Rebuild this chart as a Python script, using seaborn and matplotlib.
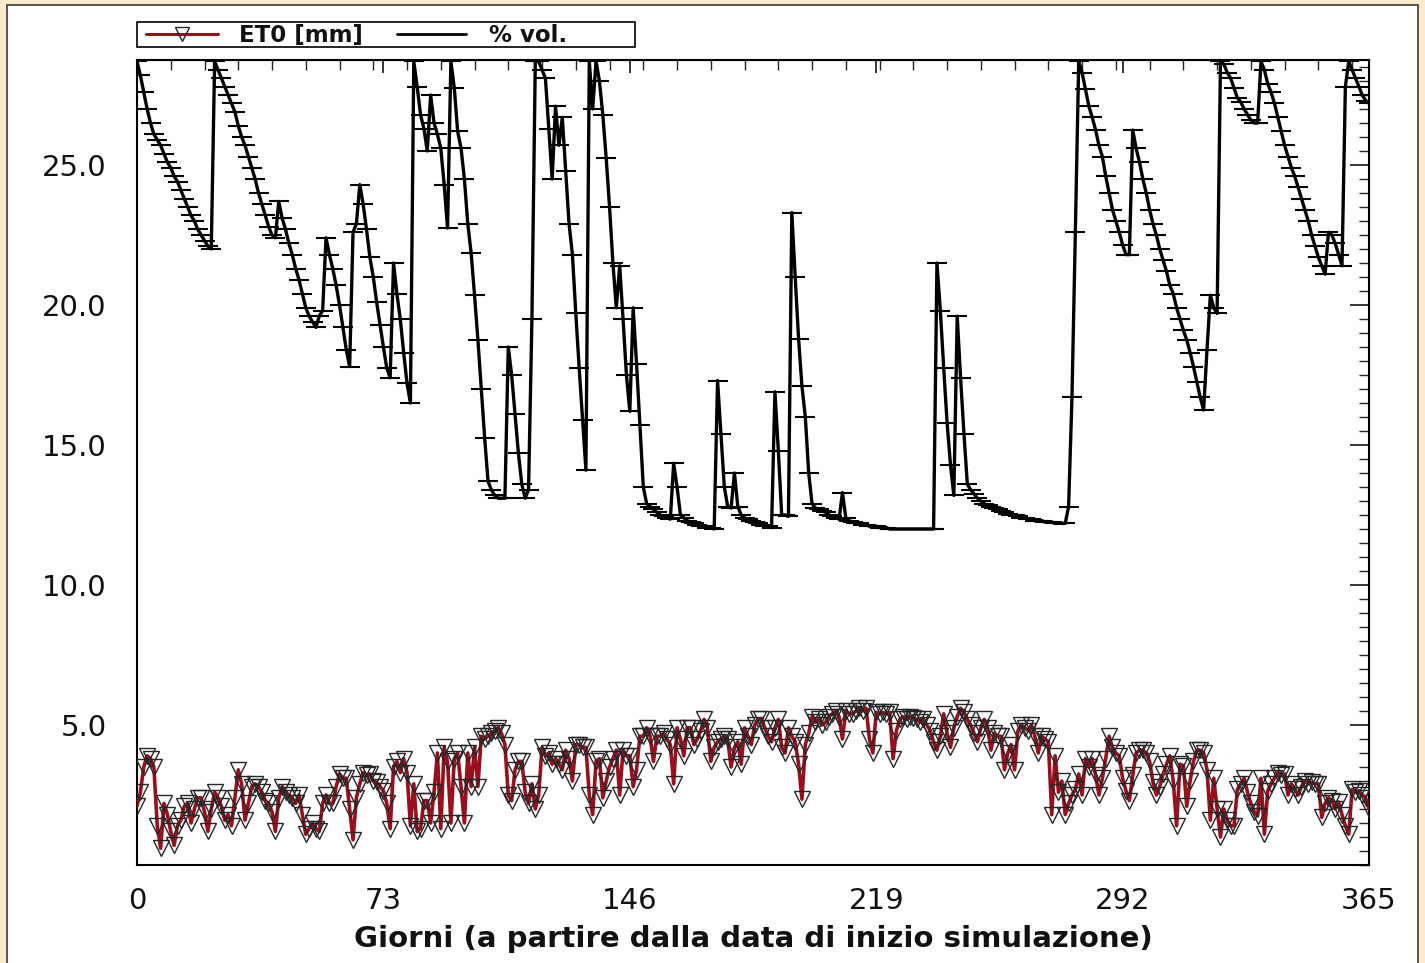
import numpy as np
import pandas as pd
import matplotlib
matplotlib.use("Agg")
import matplotlib.pyplot as plt
import seaborn as sns
from matplotlib.ticker import MultipleLocator, FixedLocator, NullFormatter
from matplotlib.patches import Rectangle
from matplotlib.lines import Line2D

# ---- data -------------------------------------------------------------
# soil moisture (% vol.), daily, day 0..365
soil_moisture = [
    28.7, 28.2, 27.6, 27.0, 26.5, 26.1, 25.9, 25.7, 25.4, 25.1,
    24.9, 24.6, 24.4, 24.1, 23.8, 23.5, 23.2, 23.0, 22.7, 22.5,
    22.3, 22.1, 22.0, 28.7, 28.4, 28.1, 27.8, 27.5, 27.2, 26.9,
    26.4, 26.0, 25.7, 25.3, 24.9, 24.5, 24.0, 23.6, 23.2, 22.8,
    22.5, 22.4, 23.7, 23.1, 22.7, 22.2, 21.8, 21.3, 20.9, 20.4,
    19.9, 19.6, 19.4, 19.2, 19.6, 19.8, 22.4, 21.8, 21.3, 20.7,
    20.0, 19.2, 18.4, 17.8, 22.6, 22.9, 24.3, 23.6, 22.7, 21.7,
    21.0, 20.1, 19.3, 18.5, 17.75, 17.4, 21.5, 20.4, 19.5, 18.3,
    17.2, 16.5, 28.7, 27.8, 26.8, 26.3, 25.5, 27.5, 26.5, 26.1,
    25.6, 24.3, 22.75, 28.7, 27.75, 26.2, 25.6, 24.5, 22.9, 21.85,
    20.35, 18.75, 17.0, 15.25, 13.7, 13.4, 13.2, 13.1, 13.1, 13.1,
    18.5, 17.5, 16.1, 14.7, 13.6, 13.1, 13.4, 19.5, 28.7, 28.7,
    28.4, 28.1, 26.3, 24.5, 27.1, 25.7, 26.7, 24.8, 22.9, 21.8,
    19.7, 17.75, 15.9, 14.1, 28.7, 27.0, 28.7, 28.0, 26.8, 25.25,
    23.5, 21.5, 19.9, 21.4, 19.5, 17.5, 16.2, 19.9, 17.9, 15.7,
    13.5, 12.9, 12.8, 12.7, 12.6, 12.5, 12.45, 12.4, 12.35, 14.35,
    13.5, 12.5, 12.4, 12.3, 12.25, 12.2, 12.15, 12.1, 12.1, 12.05,
    12.05, 12.0, 17.3, 15.4, 13.5, 12.8, 12.75, 14.0, 12.8, 12.5,
    12.4, 12.35, 12.3, 12.25, 12.2, 12.15, 12.1, 12.1, 12.05, 16.9,
    14.8, 12.5, 12.5, 12.45, 23.3, 21.0, 18.8, 17.1, 16.0, 14.0,
    12.9, 12.75, 12.7, 12.65, 12.6, 12.5, 12.45, 12.4, 12.35, 13.3,
    12.4, 12.3, 12.25, 12.2, 12.2, 12.15, 12.15, 12.1, 12.1, 12.1,
    12.05, 12.05, 12.05, 12.0, 12.0, 12.0, 12.0, 12.0, 12.0, 12.0,
    12.0, 12.0, 12.0, 12.0, 12.0, 12.0, 12.0, 21.5, 19.8, 17.75,
    15.8, 14.3, 13.2, 19.6, 17.4, 15.4, 13.6, 13.4, 13.25, 13.1,
    13.0, 12.9, 12.85, 12.8, 12.75, 12.7, 12.65, 12.6, 12.55, 12.5,
    12.5, 12.45, 12.4, 12.4, 12.35, 12.35, 12.3, 12.3, 12.3, 12.25,
    12.25, 12.25, 12.2, 12.2, 12.2, 12.2, 12.8, 16.7, 22.6, 28.7,
    28.3, 27.7, 27.1, 26.7, 26.25, 25.7, 25.3, 24.6, 24.0, 23.4,
    23.0, 22.6, 22.15, 21.8, 21.8, 26.25, 25.6, 25.1, 24.5, 24.0,
    23.4, 22.9, 22.5, 22.0, 21.6, 21.2, 20.7, 20.4, 19.9, 19.5,
    19.1, 18.75, 18.3, 17.8, 17.25, 16.7, 16.25, 18.4, 20.35, 19.9,
    19.7, 28.7, 28.6, 28.3, 28.1, 27.75, 27.4, 27.25, 27.0, 26.8,
    26.6, 26.5, 26.5, 28.7, 28.4, 27.9, 27.6, 27.2, 26.7, 26.2,
    25.7, 25.3, 24.9, 24.6, 24.2, 23.8, 23.4, 23.0, 22.5, 22.1,
    21.7, 21.4, 21.1, 22.6, 22.5, 22.2, 21.8, 21.4, 27.8, 28.7,
    28.4, 28.1, 27.8, 27.5, 27.3, 27.2,
]

# reference evapotranspiration ET0 (mm), daily, day 0..365
et0 = [
    2.1, 2.6, 3.5, 3.9, 3.8, 3.5, 1.4, 0.6, 2.2, 1.8,
    1.2, 0.7, 1.4, 1.6, 2.1, 2.2, 1.5, 2.0, 2.4, 2.4,
    1.9, 1.2, 2.0, 2.6, 2.4, 2.1, 1.6, 1.8, 1.4, 2.4,
    3.4, 2.9, 1.6, 2.2, 2.8, 2.9, 2.8, 2.6, 2.3, 2.2,
    1.9, 1.2, 2.4, 2.8, 2.6, 2.5, 2.4, 2.2, 2.5, 1.8,
    1.1, 1.3, 1.5, 1.3, 1.2, 2.2, 2.5, 2.2, 2.2, 2.8,
    3.25, 3.1, 3.1, 2.0, 0.9, 2.4, 2.9, 3.3, 3.2, 3.25,
    3.0, 2.95, 2.8, 2.65, 2.2, 1.3, 3.5, 3.7, 3.3, 3.8,
    3.3, 1.4, 2.9, 1.2, 1.3, 2.3, 2.3, 1.5, 2.6, 4.0,
    1.3, 4.2, 3.7, 1.5, 3.8, 4.0, 2.8, 1.5, 4.0, 2.8,
    4.2, 2.8, 4.6, 4.5, 4.6, 4.7, 4.8, 4.9, 4.7, 4.3,
    2.5, 2.3, 3.4, 3.7, 3.7, 2.6, 2.2, 2.9, 2.0, 2.5,
    4.2, 3.9, 4.0, 3.6, 3.8, 3.6, 3.4, 4.1, 3.8, 3.0,
    4.3, 4.3, 4.2, 4.2, 2.5, 1.8, 3.7, 3.8, 2.4, 3.0,
    3.5, 3.8, 4.1, 2.5, 4.1, 3.9, 3.9, 2.8, 3.4, 4.6,
    4.6, 4.9, 4.6, 3.7, 4.6, 4.6, 4.7, 4.5, 4.3, 2.9,
    4.9, 4.5, 3.9, 4.9, 4.9, 4.3, 4.5, 4.8, 5.2, 4.9,
    3.7, 4.2, 4.4, 4.5, 4.6, 4.5, 3.5, 4.2, 4.4, 3.6,
    4.9, 4.6, 4.3, 5.0, 5.2, 5.2, 4.9, 4.6, 4.4, 4.9,
    5.2, 4.2, 4.0, 4.9, 4.6, 4.4, 3.6, 2.35, 4.3, 4.7,
    5.3, 5.1, 5.2, 5.0, 5.1, 5.3, 5.4, 5.5, 5.3, 4.5,
    5.5, 5.4, 5.4, 5.5, 5.6, 5.5, 5.6, 4.5, 4.0, 5.45,
    5.4, 5.45, 5.4, 5.45, 3.8, 4.8, 5.2, 5.3, 5.2, 5.3,
    5.25, 5.2, 5.1, 5.2, 5.0, 4.8, 4.4, 4.1, 4.6, 5.4,
    4.7, 4.2, 4.9, 5.3, 5.6, 5.45, 5.2, 5.0, 4.7, 4.4,
    4.9, 5.2, 4.9, 4.1, 4.7, 4.6, 4.6, 3.4, 4.0, 4.3,
    3.4, 4.8, 5.0, 4.9, 4.8, 5.0, 4.6, 4.0, 4.6, 4.5,
    4.4, 1.8, 3.9, 2.6, 3.0, 1.8, 2.2, 2.5, 2.7, 3.25,
    2.5, 3.8, 3.5, 3.8, 3.2, 2.5, 3.1, 3.8, 4.6, 4.2,
    4.0, 3.9, 3.1, 2.65, 2.3, 3.2, 4.0, 4.1, 4.1, 4.0,
    3.7, 2.95, 2.5, 2.8, 3.25, 3.6, 3.9, 3.0, 1.4, 3.6,
    3.55, 2.1, 3.0, 3.7, 4.1, 4.1, 4.0, 3.4, 1.6, 3.1,
    2.0, 1.0, 2.0, 1.6, 1.4, 1.4, 2.7, 2.9, 3.1, 2.6,
    2.2, 1.9, 1.75, 3.1, 1.1, 2.65, 2.9, 3.1, 3.3, 3.2,
    3.25, 2.5, 2.9, 2.7, 2.5, 2.8, 3.0, 2.9, 2.95, 2.9,
    2.9, 1.7, 2.2, 2.4, 2.3, 2.0, 2.25, 1.8, 1.4, 1.1,
    2.7, 2.6, 2.65, 2.5, 2.4, 2.0,
]

assert len(soil_moisture) == 366, len(soil_moisture)
assert len(et0) == 366, len(et0)

days = list(range(len(soil_moisture)))
x_major_ticks = [0, 73, 146, 219, 292, 365]
y_major_ticks = [5.0, 10.0, 15.0, 20.0, 25.0]
label_et0 = "ET0 [mm]"
label_sm = "% vol."
x_title = "Giorni (a partire dalla data di inizio simulazione)"

df = pd.DataFrame({"giorno": days, "sm": soil_moisture, "et0": et0})

# ---- style ------------------------------------------------------------
sns.set_style("white")
plt.rcParams["font.family"] = ["DejaVu Sans"]

W, H = 1425, 963
fig = plt.figure(figsize=(W / 100, H / 100), dpi=100)
fig.patch.set_facecolor("#FBEACB")


def fx(px):
    return px / W


def fy(py):
    return 1 - py / H


# white inner panel with thin dark border
panel = Rectangle((fx(7), -0.01), fx(1418) - fx(7), fy(5) + 0.01,
                  transform=fig.transFigure, facecolor="white",
                  edgecolor="#3a3a3a", linewidth=1.2, zorder=0)
fig.add_artist(panel)

L, R, T, B = 137, 1369, 60, 865
ax = fig.add_axes([fx(L), fy(B), fx(R) - fx(L), fy(T) - fy(B)])
ax.set_facecolor("none")

RED = "#98101E"
MEDGE = "#262626"

sns.lineplot(data=df, x="giorno", y="et0", ax=ax, color=RED, linewidth=2.6,
             marker="v", markersize=11, markerfacecolor="none",
             markeredgecolor=MEDGE, markeredgewidth=1.0, zorder=3)
sns.lineplot(data=df, x="giorno", y="sm", ax=ax, color="black", linewidth=2.4,
             marker="_", markersize=15, markeredgewidth=1.5,
             markeredgecolor="black", zorder=4)

ax.set_xlim(0, 365)
ax.set_ylim(0, 28.75)

ax.xaxis.set_major_locator(FixedLocator(x_major_ticks))
ax.xaxis.set_minor_locator(MultipleLocator(10))
ax.yaxis.set_major_locator(FixedLocator(y_major_ticks))
ax.yaxis.set_minor_locator(MultipleLocator(0.5))
ax.set_yticklabels([f"{v:.1f}" for v in y_major_ticks])
ax.set_xticklabels([str(v) for v in x_major_ticks])

ax.tick_params(axis="both", which="major", direction="inout", length=16,
               width=1.3, color="black", labelsize=21, labelcolor="#111111")
ax.tick_params(axis="both", which="minor", direction="inout", length=9,
               width=1.0, color="black")
ax.tick_params(axis="y", which="major", pad=14)
ax.tick_params(axis="x", which="major", pad=8)

for s in ax.spines.values():
    s.set_color("black")
    s.set_linewidth(1.5)

# inward ticks on top and right
secx = ax.secondary_xaxis("top")
secx.xaxis.set_major_locator(FixedLocator(x_major_ticks))
secx.xaxis.set_minor_locator(MultipleLocator(10))
secx.xaxis.set_major_formatter(NullFormatter())
secx.tick_params(which="major", direction="in", length=9, width=1.3)
secx.tick_params(which="minor", direction="in", length=7, width=1.0)
secy = ax.secondary_yaxis("right")
secy.yaxis.set_major_locator(FixedLocator(y_major_ticks))
secy.yaxis.set_minor_locator(MultipleLocator(0.5))
secy.yaxis.set_major_formatter(NullFormatter())
secy.tick_params(which="major", direction="in", length=14, width=1.3)
secy.tick_params(which="minor", direction="in", length=7, width=1.0)

ax.set_ylabel("")
ax.set_xlabel(x_title, fontsize=21, fontweight="bold", labelpad=7,
              color="#111111")

# legend box above the plot (drawn in figure pixels)
fig.add_artist(Rectangle((fx(137), fy(47)), fx(635) - fx(137), fy(22) - fy(47),
                         transform=fig.transFigure, facecolor="white",
                         edgecolor="black", linewidth=1.2, zorder=5))
ly = fy(34.5)
ty = fy(33)
fig.add_artist(Line2D([fx(146), fx(218)], [ly, ly], transform=fig.transFigure,
                      color=RED, linewidth=2.2, zorder=6))
fig.add_artist(Line2D([fx(182)], [ly], transform=fig.transFigure,
                      linestyle="none", marker="v", markersize=10,
                      markerfacecolor="none", markeredgecolor=MEDGE,
                      markeredgewidth=1.0, zorder=7))
fig.add_artist(Line2D([fx(397), fx(466)], [ly, ly], transform=fig.transFigure,
                      color="black", linewidth=2.0, zorder=6))
fig.text(fx(239), ty, label_et0, fontsize=16.5, fontweight="bold",
         color="#111111", va="center_baseline", ha="left", zorder=7)
fig.text(fx(489), ty, label_sm, fontsize=16.5, fontweight="bold",
         color="#111111", va="center_baseline", ha="left", zorder=7)

fig.savefig("out.png", dpi=100, facecolor=fig.get_facecolor())
